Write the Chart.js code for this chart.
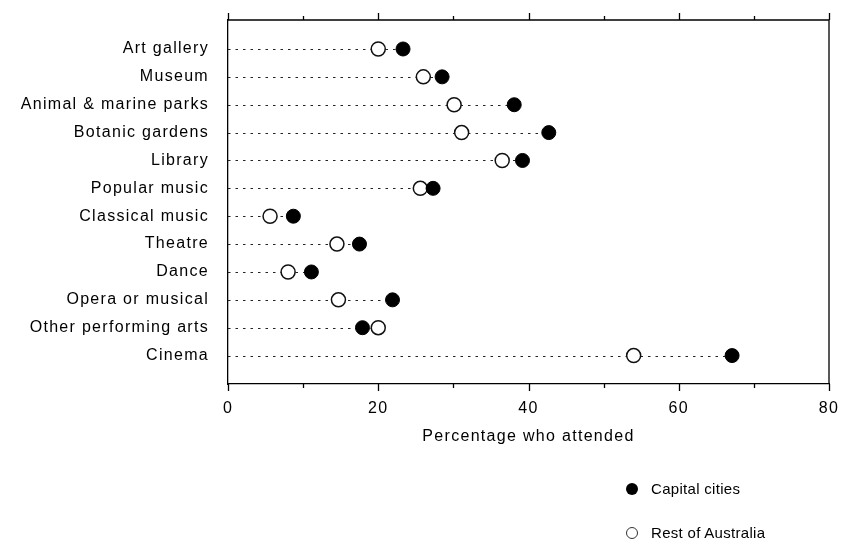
<!DOCTYPE html>
<html>
<head>
<meta charset="utf-8">
<script src="https://cdn.jsdelivr.net/npm/chart.js@4.4.1/dist/chart.umd.min.js"></script>
<style>
  html, body { margin: 0; padding: 0; background: #fff; }
  #wrap { position: relative; width: 842px; height: 545px; }
  .legend-item { position: absolute; left: 626px; font: 15px "Liberation Sans", Arial, sans-serif; letter-spacing: 0.3px; color: #000; display: flex; align-items: center; }
  .dot { width: 12px; height: 12px; border-radius: 50%; margin-right: 13px; box-sizing: border-box; }
</style>
</head>
<body>
<div id="wrap">
  <canvas id="dotChart" width="842" height="545"></canvas>
  <div class="legend-item" style="top:480px"><span class="dot" style="background:#000"></span>Capital cities</div>
  <div class="legend-item" style="top:524px"><span class="dot" style="background:#fff;border:1.3px solid #333"></span>Rest of Australia</div>
</div>
<script>
// categories, top to bottom
const categories = ['Art gallery', 'Museum', 'Animal & marine parks', 'Botanic gardens', 'Library',
    'Popular music', 'Classical music', 'Theatre', 'Dance', 'Opera or musical',
    'Other performing arts', 'Cinema'];
// percentage who attended
const capitalCities   = [23.3, 28.5, 38.1, 42.7, 39.2, 27.3, 8.7, 17.5, 11.1, 21.9, 17.9, 67.1];
const restOfAustralia = [20.0, 26.0, 30.1, 31.1, 36.5, 25.6, 5.6, 14.5, 8.0, 14.7, 20.0, 54.0];
const xTicks = [0, 10, 20, 30, 40, 50, 60, 70, 80];
const xLabels = [0, 20, 40, 60, 80];

const FONT = '"Liberation Sans", Arial, sans-serif';

// the scanned original has wide, loosely spaced lettering
const wideText = {
    id: 'wideText',
    afterInit(chart) { chart.ctx.letterSpacing = '1.3px'; },
    beforeDraw(chart) { chart.ctx.letterSpacing = '1.3px'; }
};

// dotted leader lines from 0 to the larger value of each row
const leaderLines = {
    id: 'leaderLines',
    beforeDatasetsDraw(chart) {
        const ctx = chart.ctx, xs = chart.scales.x, ys = chart.scales.y;
        ctx.save();
        ctx.strokeStyle = '#222';
        ctx.lineWidth = 1.2;
        ctx.setLineDash([2.5, 5]);
        categories.forEach((c, i) => {
            const y = Math.round(ys.getPixelForValue(i)) + 0.5;
            ctx.beginPath();
            ctx.moveTo(xs.getPixelForValue(0), y);
            ctx.lineTo(xs.getPixelForValue(Math.max(capitalCities[i], restOfAustralia[i])), y);
            ctx.stroke();
        });
        ctx.restore();
    }
};

// frame on top/right plus tick marks (long at labelled values)
const frameTicks = {
    id: 'frameTicks',
    afterDraw(chart) {
        const ctx = chart.ctx, xs = chart.scales.x, a = chart.chartArea;
        ctx.save();
        ctx.strokeStyle = '#000';
        ctx.lineWidth = 1.3;
        ctx.beginPath();
        ctx.moveTo(a.left, a.top); ctx.lineTo(a.right, a.top); ctx.lineTo(a.right, a.bottom);
        xTicks.forEach(v => {
            const x = Math.round(xs.getPixelForValue(v)) + 0.5;
            const len = xLabels.includes(v) ? 7 : 4;
            ctx.moveTo(x, a.bottom); ctx.lineTo(x, a.bottom + len);
            ctx.moveTo(x, a.top); ctx.lineTo(x, a.top - len);
        });
        ctx.stroke();
        ctx.restore();
    }
};

new Chart(document.getElementById('dotChart'), {
    type: 'scatter',
    data: {
        datasets: [{
            label: 'Capital cities',
            data: capitalCities.map((v, i) => ({ x: v, y: i })),
            pointStyle: 'circle',
            pointRadius: 7,
            backgroundColor: '#000',
            borderColor: '#000',
            borderWidth: 1
        }, {
            label: 'Rest of Australia',
            data: restOfAustralia.map((v, i) => ({ x: v, y: i })),
            pointStyle: 'circle',
            pointRadius: 7,
            backgroundColor: '#fff',
            borderColor: '#111',
            borderWidth: 1.5
        }]
    },
    options: {
        responsive: false,
        animation: false,
        layout: { padding: { top: 20, right: 13, bottom: 100, left: 0 } },
        plugins: {
            legend: { display: false },
            tooltip: { enabled: false }
        },
        scales: {
            x: {
                type: 'linear',
                min: 0,
                max: 80,
                grid: { display: false, drawTicks: false },
                border: { color: '#000', width: 1.3 },
                afterBuildTicks: s => { s.ticks = xLabels.map(v => ({ value: v })); },
                afterFit: s => { s.paddingLeft = 0; s.paddingRight = 0; },
                ticks: { color: '#000', padding: 17, font: { family: FONT, size: 16, lineHeight: 1 } },
                title: {
                    display: true,
                    text: 'Percentage who attended',
                    color: '#000',
                    padding: { top: -5, bottom: 0 },
                    font: { family: FONT, size: 16, lineHeight: 1 }
                }
            },
            y: {
                type: 'linear',
                reverse: true,
                min: -1.04,
                max: 12.02,
                grid: { display: false, drawTicks: false },
                border: { color: '#000', width: 1.3 },
                afterBuildTicks: s => { s.ticks = categories.map((c, i) => ({ value: i })); },
                afterFit: s => { s.width = 228; s.paddingTop = 0; s.paddingBottom = 0; },
                ticks: {
                    color: '#000',
                    padding: 19,
                    autoSkip: false,
                    font: { family: FONT, size: 16 },
                    callback: v => categories[v]
                }
            }
        }
    },
    plugins: [wideText, leaderLines, frameTicks]
});
</script>
</body>
</html>
